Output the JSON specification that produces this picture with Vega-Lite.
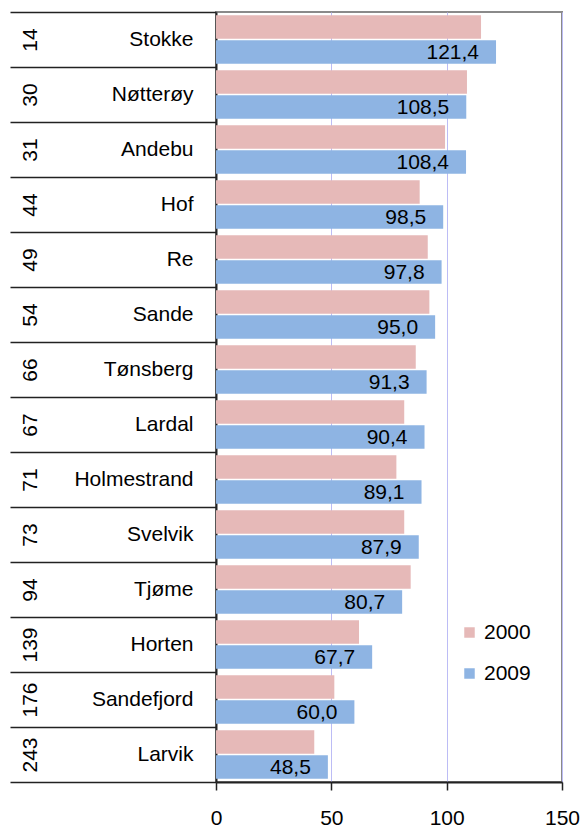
{
  "$schema": "https://vega.github.io/schema/vega-lite/v6.json",
  "width": 346,
  "height": 770,
  "autosize": {"type": "none"},
  "padding": {"left": 216, "top": 12, "right": 20, "bottom": 45},
  "config": {
    "font": "Liberation Sans",
    "view": {"stroke": "#8a8a8a", "strokeWidth": 2},
    "axisX": {"gridColor": "#bcbcf5", "gridWidth": 1, "gridOpacity": 1},
    "locale": {"number": {"decimal": ",", "thousands": " ", "grouping": [3], "currency": ["", " kr"]}}
  },
  "data": {"values": [
    {"rank": 14, "name": "Stokke", "year": "2000", "value": 114.9},
    {"rank": 14, "name": "Stokke", "year": "2009", "value": 121.4},
    {"rank": 30, "name": "Nøtterøy", "year": "2000", "value": 108.8},
    {"rank": 30, "name": "Nøtterøy", "year": "2009", "value": 108.5},
    {"rank": 31, "name": "Andebu", "year": "2000", "value": 99.3},
    {"rank": 31, "name": "Andebu", "year": "2009", "value": 108.4},
    {"rank": 44, "name": "Hof", "year": "2000", "value": 88.3},
    {"rank": 44, "name": "Hof", "year": "2009", "value": 98.5},
    {"rank": 49, "name": "Re", "year": "2000", "value": 91.8},
    {"rank": 49, "name": "Re", "year": "2009", "value": 97.8},
    {"rank": 54, "name": "Sande", "year": "2000", "value": 92.5},
    {"rank": 54, "name": "Sande", "year": "2009", "value": 95.0},
    {"rank": 66, "name": "Tønsberg", "year": "2000", "value": 86.6},
    {"rank": 66, "name": "Tønsberg", "year": "2009", "value": 91.3},
    {"rank": 67, "name": "Lardal", "year": "2000", "value": 81.6},
    {"rank": 67, "name": "Lardal", "year": "2009", "value": 90.4},
    {"rank": 71, "name": "Holmestrand", "year": "2000", "value": 78.2},
    {"rank": 71, "name": "Holmestrand", "year": "2009", "value": 89.1},
    {"rank": 73, "name": "Svelvik", "year": "2000", "value": 81.6},
    {"rank": 73, "name": "Svelvik", "year": "2009", "value": 87.9},
    {"rank": 94, "name": "Tjøme", "year": "2000", "value": 84.4},
    {"rank": 94, "name": "Tjøme", "year": "2009", "value": 80.7},
    {"rank": 139, "name": "Horten", "year": "2000", "value": 62.0},
    {"rank": 139, "name": "Horten", "year": "2009", "value": 67.7},
    {"rank": 176, "name": "Sandefjord", "year": "2000", "value": 51.3},
    {"rank": 176, "name": "Sandefjord", "year": "2009", "value": 60.0},
    {"rank": 243, "name": "Larvik", "year": "2000", "value": 42.6},
    {"rank": 243, "name": "Larvik", "year": "2009", "value": 48.5}
  ]},
  "layer": [
    {
      "layer": [
        {
          "mark": {"type": "bar"},
          "encoding": {
            "y": {
              "field": "name", "type": "nominal",
              "sort": {"field": "rank", "op": "min", "order": "ascending"},
              "scale": {"paddingInner": 0, "paddingOuter": 0},
              "axis": {
                "orient": "left", "title": null,
                "tickBand": "extent", "tickSize": 206, "tickColor": "#222222", "tickWidth": 1.5,
                "domainColor": "#222222", "domainWidth": 2,
                "labelPadding": -183, "labelFontSize": 21, "labelColor": "#000000",
                "labelAlign": "right", "labelBaseline": "middle"
              }
            },
            "yOffset": {
              "field": "year", "type": "nominal",
              "scale": {"domain": ["2000", "2009"], "paddingInner": 0.06, "paddingOuter": 0.13}
            },
            "x": {
              "field": "value", "type": "quantitative",
              "scale": {"domain": [0, 150], "nice": false},
              "axis": {
                "title": null, "values": [0, 50, 100, 150], "format": "d",
                "grid": true, "gridColor": "#bcbcf5", "gridWidth": 1,
                "tickSize": 8, "tickColor": "#222222", "tickWidth": 1.5,
                "domainColor": "#222222", "domainWidth": 2,
                "labelFontSize": 21, "labelColor": "#000000", "labelPadding": 17,
                "labelFlush": false
              }
            },
            "color": {
              "field": "year", "type": "nominal",
              "scale": {"domain": ["2000", "2009"], "range": ["#E6B9B8", "#8EB4E3"]},
              "legend": {
                "title": null, "orient": "none", "legendX": 243, "legendY": 610,
                "symbolType": "square", "symbolSize": 110, "symbolStrokeWidth": 0,
                "labelFontSize": 21, "labelColor": "#000000", "labelOffset": 4,
                "rowPadding": 19, "padding": 0
              }
            }
          }
        },
        {
          "transform": [{"filter": "datum.year == '2009'"}],
          "mark": {"type": "text", "align": "right", "baseline": "middle", "dx": -17, "dy": 1, "fontSize": 21, "color": "#000000"},
          "encoding": {
            "y": {
              "field": "name", "type": "nominal",
              "sort": {"field": "rank", "op": "min", "order": "ascending"}
            },
            "yOffset": {"field": "year", "type": "nominal"},
            "x": {"field": "value", "type": "quantitative"},
            "text": {"field": "value", "type": "quantitative", "format": ".1f"}
          }
        }
      ]
    },
    {
      "transform": [{"filter": "datum.year == '2009'"}],
      "mark": {"type": "point", "opacity": 0},
      "encoding": {
        "y": {
          "field": "rank", "type": "ordinal",
          "sort": "ascending",
          "scale": {"paddingInner": 0, "paddingOuter": 0},
          "axis": {
            "orient": "left", "title": null, "ticks": false, "domain": false,
            "labelAngle": -90, "labelAlign": "center", "labelBaseline": "middle",
            "labelPadding": 186, "labelFontSize": 21, "labelColor": "#000000"
          }
        },
        "x": {"field": "value", "type": "quantitative"}
      }
    }
  ],
  "resolve": {"scale": {"y": "independent", "yOffset": "independent"}, "axis": {"y": "independent"}}
}
